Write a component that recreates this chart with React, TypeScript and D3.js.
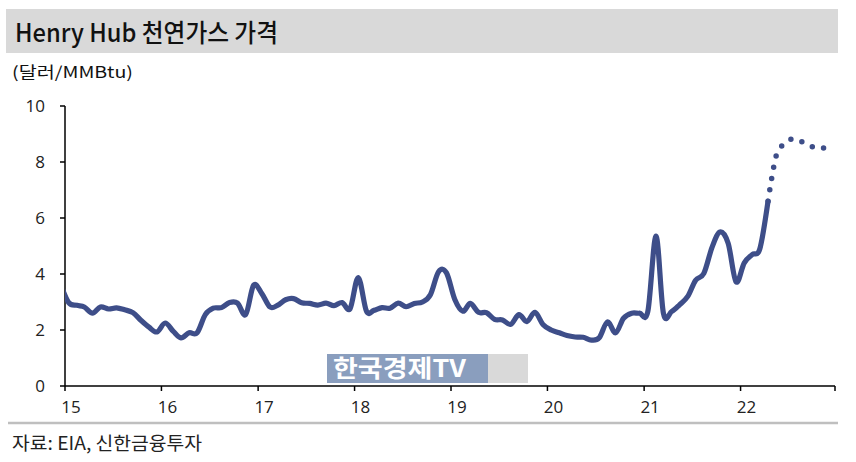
import React from "react";
import * as d3 from "d3";

// Monthly Henry Hub price (USD/MMBtu), Dec 2014 .. Apr 2022 (actual)
const actualStart = [2014, 11]; // year, month index (Dec 2014)
const priceActual = [
  3.65,
  2.98, 2.88, 2.82, 2.6, 2.82, 2.75, 2.79, 2.72, 2.62, 2.35, 2.1, 1.93,
  2.25, 1.95, 1.72, 1.9, 1.9, 2.55, 2.78, 2.8, 2.98, 2.96, 2.55, 3.6,
  3.3, 2.82, 2.88, 3.08, 3.12, 2.97, 2.95, 2.89, 2.96, 2.87, 2.98, 2.76,
  3.87, 2.67, 2.7, 2.8, 2.78, 2.96, 2.83, 2.95, 3.0, 3.26, 4.08, 4.04,
  3.1, 2.67, 2.95, 2.63, 2.62, 2.38, 2.36, 2.2, 2.55, 2.3, 2.63, 2.2,
  2.0, 1.9, 1.8, 1.75, 1.74, 1.64, 1.72, 2.29, 1.9, 2.42, 2.6, 2.6,
  2.66, 5.35, 2.6, 2.66, 2.9, 3.2, 3.78, 4.02, 4.95, 5.5, 5.1, 3.72,
  4.4, 4.7, 4.9, 6.6,
];
// Forecast, Apr 2022 .. Dec 2022
const forecastStart = [2022, 3];
const priceForecast = [6.6, 8.2, 8.65, 8.82, 8.75, 8.6, 8.5, 8.5, 8.55];

const yearTicks = [2015, 2016, 2017, 2018, 2019, 2020, 2021, 2022, 2023];
const yearLabels = ["15", "16", "17", "18", "19", "20", "21", "22"];
const yTicks = [0, 2, 4, 6, 8, 10];

const titleText = "Henry Hub 천연가스 가격";
const unitText = "(달러/MMBtu)";
const sourceText = "자료: EIA, 신한금융투자";
const watermarkText = "한국경제TV";

const W = 856;
const H = 462;
const LINE = "#3E4E89";
const CJK = "'Noto Sans CJK KR', 'Noto Sans', sans-serif";
const NUM = "'Open Sans', 'Noto Sans', sans-serif";

export default function App() {
  const x = d3
    .scaleTime()
    .domain([new Date(2015, 0, 1), new Date(2023, 0, 1)])
    .range([65, 837]);
  const y = d3.scaleLinear().domain([0, 10]).range([386, 106]);

  const toPts = (start: number[], vals: number[]) =>
    vals.map((v, i) => ({ d: new Date(start[0], start[1] + i, 15), v }));

  const actual = toPts(actualStart, priceActual);
  const forecast = toPts(forecastStart, priceForecast);

  const line = d3
    .line<{ d: Date; v: number }>()
    .x((p) => x(p.d))
    .y((p) => y(p.v))
    .curve(d3.curveCatmullRom.alpha(0));

  const x0 = x.range()[0];
  const xEnd = 835;

  return (
    <svg
      width={W}
      height={H}
      style={{ position: "absolute", left: 0, top: 0, background: "#fff" }}
    >
      <defs>
        <clipPath id="plot">
          <rect x={x0} y={0} width={xEnd - x0 + 10} height={H} />
        </clipPath>
      </defs>
      {/* title band */}
      <rect x={6} y={9} width={832} height={44} fill="#D9D9D9" />
      <text
        x={15}
        y={42}
        fontFamily={CJK}
        fontSize={25}
        fontWeight={500}
        fill="#111"
        textLength={263}
        lengthAdjust="spacingAndGlyphs"
      >
        {titleText}
      </text>
      <text
        x={12}
        y={78}
        fontFamily={CJK}
        fontSize={16}
        fill="#111"
        textLength={121}
        lengthAdjust="spacingAndGlyphs"
      >
        {unitText}
      </text>

      {/* watermark */}
      <rect x={488} y={354} width={40} height={29} fill="#D9D9D9" />
      <rect x={327} y={354} width={161} height={29} fill="#8A9EBE" />
      <text
        x={333}
        y={377}
        fontFamily={CJK}
        fontSize={24}
        fontWeight={700}
        fill="#fff"
        textLength={133}
        lengthAdjust="spacingAndGlyphs"
      >
        {watermarkText}
      </text>

      {/* y axis */}
      <line x1={x0} x2={x0} y1={y(10)} y2={y(0)} stroke="#000" strokeWidth={1.5} />
      {yTicks.map((t) => (
        <g key={t}>
          <line x1={x0 - 5} x2={x0} y1={y(t)} y2={y(t)} stroke="#000" strokeWidth={1.5} />
          <text
            x={45}
            y={y(t) + 6}
            textAnchor="end"
            fontFamily={NUM}
            fontSize={17}
            fill="#222"
          >
            {t}
          </text>
        </g>
      ))}

      {/* x axis */}
      <line x1={x0} x2={xEnd} y1={y(0)} y2={y(0)} stroke="#000" strokeWidth={1.5} />
      {yearTicks.map((yr) => {
        const xx = Math.min(x(new Date(yr, 0, 1)), xEnd);
        return (
          <line
            key={yr}
            x1={xx}
            x2={xx}
            y1={y(0)}
            y2={y(0) + 5}
            stroke="#000"
            strokeWidth={1.5}
          />
        );
      })}
      {yearLabels.map((lab, i) => (
        <text
          key={lab}
          x={x(new Date(yearTicks[i], 0, 1)) + 6}
          y={413}
          textAnchor="middle"
          fontFamily={NUM}
          fontSize={17}
          fill="#222"
        >
          {lab}
        </text>
      ))}

      {/* series */}
      <g clipPath="url(#plot)">
        <path
          d={line(actual) || ""}
          fill="none"
          stroke={LINE}
          strokeWidth={5.2}
          strokeLinejoin="round"
          strokeLinecap="round"
        />
        <path
          d={line(forecast) || ""}
          fill="none"
          stroke={LINE}
          strokeWidth={5.5}
          strokeLinecap="round"
          strokeDasharray="0 11.5"
        />
      </g>

      {/* bottom rule and source */}
      <line x1={8} x2={838} y1={423} y2={423} stroke="#BFBFBF" strokeWidth={2.5} />
      <text
        x={12}
        y={450}
        fontFamily={CJK}
        fontSize={18}
        fill="#222"
        textLength={190}
        lengthAdjust="spacingAndGlyphs"
      >
        {sourceText}
      </text>
    </svg>
  );
}
